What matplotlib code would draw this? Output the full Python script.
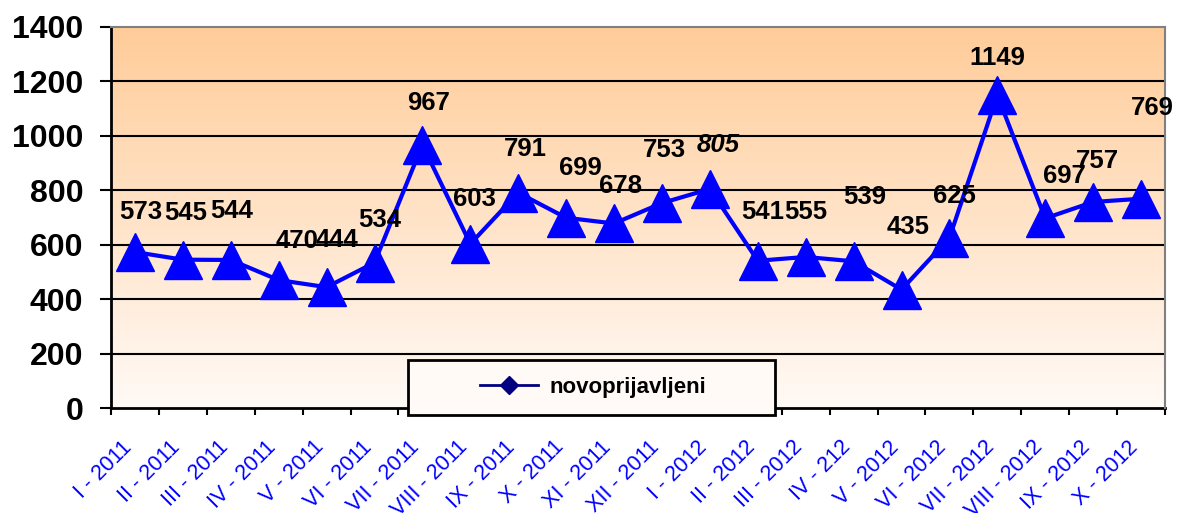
import matplotlib.pyplot as plt
import matplotlib.transforms as mtransforms
import numpy as np
from matplotlib.lines import Line2D
from matplotlib.patches import Rectangle

plt.rcParams['font.family'] = ['Liberation Sans', 'DejaVu Sans']

months = ["I - 2011", "II - 2011", "III - 2011", "IV - 2011", "V - 2011", "VI - 2011",
          "VII - 2011", "VIII - 2011", "IX - 2011", "X - 2011", "XI - 2011", "XII - 2011",
          "I - 2012", "II - 2012", "III - 2012", "IV - 212", "V - 2012", "VI - 2012",
          "VII - 2012", "VIII - 2012", "IX - 2012", "X - 2012"]
values = [573, 545, 544, 470, 444, 534, 967, 603, 791, 699, 678, 753,
          805, 541, 555, 539, 435, 625, 1149, 697, 757, 769]

# hand-placed label offsets (pixels) like in the original sheet
label_dx = [6, 3, 1, 18, 10, 5, 6, 4, 7, 14, 6, 2, 8, 5, 0, 11, 7, 5, 0, 19, 4, 11]
label_dy = [40, 47, 49, 39, 47, 43, 42, 45, 44, 50, 37, 53, 44, 49, 45, 64, 63, 42, 37, 42, 41, 91]

W, H = 1184, 513
fig = plt.figure(figsize=(W / 100, H / 100), dpi=100)
ax = fig.add_axes([111 / W, 1 - 408 / H, (1165 - 111) / W, (408 - 27) / H])

n = len(values)
x = np.arange(n)
ax.set_xlim(-0.5, n - 0.5)
ax.set_ylim(0, 1400)

# orange -> white gradient background
top = np.array([255, 204, 153]) / 255
bot = np.array([255, 250, 246]) / 255
t = np.linspace(0, 1, 256)[:, None]
grad = bot + (top - bot) * t
ax.imshow(grad[:, None, :], extent=(-0.5, n - 0.5, 0, 1400), origin='lower',
          aspect='auto', zorder=0)

for yv in range(200, 1400, 200):
    ax.axhline(yv, color='black', lw=1.5, zorder=1)

ax.plot(x, values, color='#0000FF', lw=3, marker='^', ms=28, zorder=3, clip_on=False)

for i, v in enumerate(values):
    ax.annotate(str(v), (i, v), xytext=(label_dx[i], label_dy[i]), textcoords='offset pixels',
                ha='center', va='center', fontsize=18.5, fontweight='bold',
                style='italic' if i == 12 else 'normal', zorder=4)

ax.set_yticks(range(0, 1401, 200))
ax.tick_params(axis='y', direction='out', length=8, width=1.5, labelsize=23, pad=12)
for lab in ax.get_yticklabels():
    lab.set_fontweight('bold')

ax.set_xticks(np.arange(-0.5, n, 1))
ax.set_xticklabels([])
ax.set_xticks(x, minor=True)
ax.set_xticklabels(months, minor=True, rotation=45, ha='right', va='center',
                   rotation_mode='anchor', color='#0000FF', fontsize=15.5)
ax.tick_params(axis='x', which='major', direction='out', length=5, width=1.5)
ax.tick_params(axis='x', which='minor', length=0, pad=26)
shift = mtransforms.ScaledTranslation(-6 / 100, 0, fig.dpi_scale_trans)
for lab in ax.get_xticklabels(minor=True):
    lab.set_transform(lab.get_transform() + shift)

ax.spines['left'].set_linewidth(2)
ax.spines['bottom'].set_linewidth(2)
ax.spines['bottom'].set_zorder(2.3)
ax.spines['top'].set_color('#808080')
ax.spines['right'].set_color('#808080')
ax.spines['top'].set_linewidth(1.5)
ax.spines['right'].set_linewidth(1.5)

box = Rectangle((408 / W, 1 - 415 / H), 367 / W, 55 / H, transform=fig.transFigure,
                facecolor='#FFFAF6', edgecolor='black', lw=2, clip_on=False, zorder=2.4)
ax.add_patch(box)

handle = Line2D([], [], color='#000080', lw=2, marker='D', ms=9)
fig.legend(handles=[handle], labels=['novoprijavljeni'], loc='center',
           bbox_to_anchor=(593 / W, 1 - 387 / H), frameon=False,
           prop=dict(weight='bold', size=16), handlelength=2.6, handletextpad=0.5)

fig.savefig('out.png', dpi=100)
